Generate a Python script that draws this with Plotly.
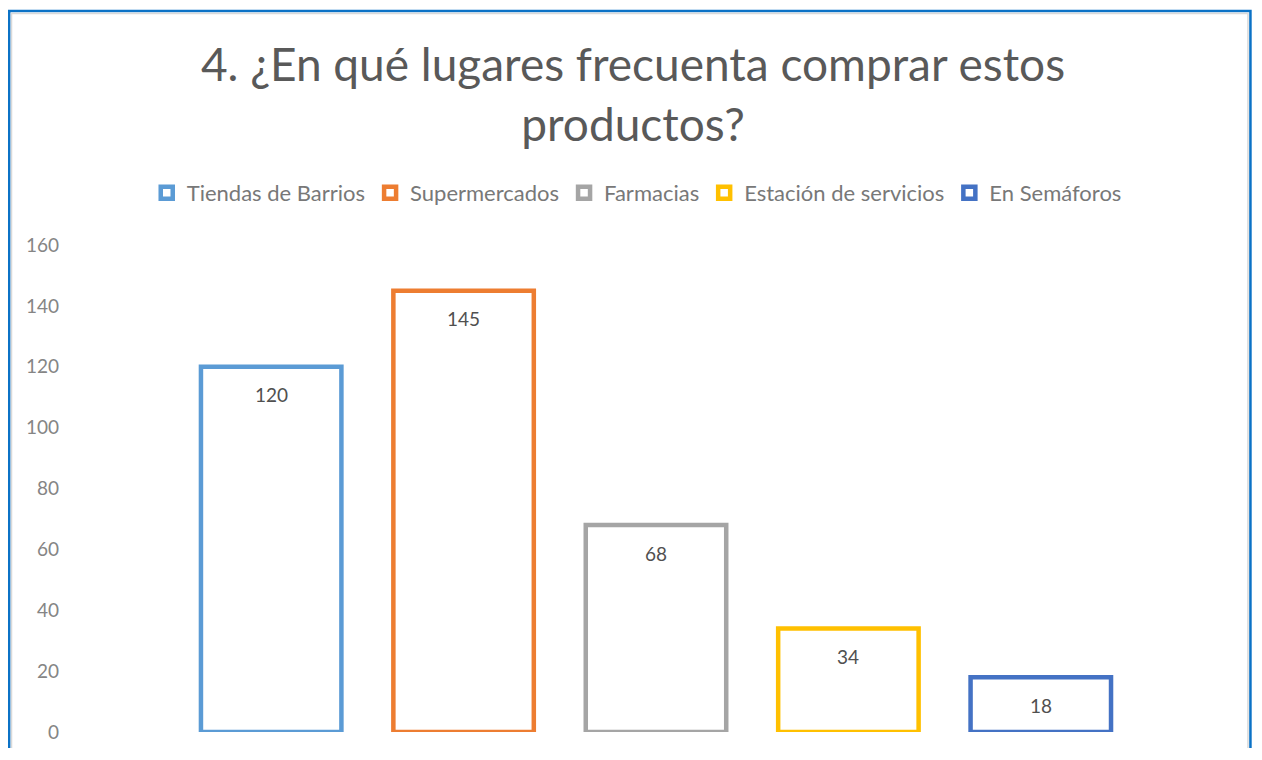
import plotly.graph_objects as go

categories = ["Tiendas de Barrios", "Supermercados", "Farmacias", "Estación de servicios", "En Semáforos"]
values = [120, 145, 68, 34, 18]
colors = ["#5B9BD5", "#ED7D31", "#A5A5A5", "#FFC000", "#4472C4"]
y_ticks = [0, 20, 40, 60, 80, 100, 120, 140, 160]

FONT = "Lato"
TITLE_C = "#595959"
LEG_C = "#787878"
TICK_C = "#858585"
LAB_C = "#505050"

# the page body adds an 8px margin, so the figure is laid out 8px smaller
OFF = 8
W, H = 1262 - OFF, 760 - 2 * OFF - 4
L, R = 68 - OFF, 1137.5 - OFF
T, B = 245 - OFF, 732 - OFF


def px_x(p):
    return (p - OFF - L) / (R - L)


def px_y(p):
    return (B - (p - OFF)) / (B - T)


fig = go.Figure()
for cat, val, col in zip(categories, values, colors):
    fig.add_trace(go.Bar(
        x=[cat], y=[val], name=cat, width=0.73,
        marker=dict(color="white", line=dict(color=col, width=4.5)),
        hoverinfo="x+y",
    ))
    fig.add_annotation(x=cat, y=val, yshift=-28, text=str(val), showarrow=False,
                       font=dict(family=FONT, size=19, color=LAB_C))

# chart frame
fig.add_shape(type="rect", xref="paper", yref="paper",
              x0=px_x(9.2), x1=px_x(1251), y0=px_y(820), y1=px_y(11),
              line=dict(color="#0B72C6", width=2.5), layer="below")
fig.add_shape(type="rect", xref="paper", yref="paper",
              x0=px_x(11.5), x1=px_x(1248.5), y0=px_y(820), y1=px_y(13.5),
              line=dict(color="#D9D9D9", width=1.5), layer="below")

fig.update_layout(
    width=W, height=H,
    margin=dict(l=L, r=W - R, t=T, b=H - B, pad=0, autoexpand=False),
    paper_bgcolor="white", plot_bgcolor="white",
    barmode="overlay",
    font=dict(family=FONT, color=TITLE_C),
    title=dict(text="4. ¿En qué lugares frecuenta comprar estos<br>productos?",
               x=(633 - OFF) / W, xanchor="center", xref="container",
               y=1 - 73 / H, yanchor="top", yref="container",
               font=dict(family=FONT, size=46, color=TITLE_C)),
    legend=dict(orientation="h", x=px_x(637), xanchor="center",
                y=px_y(193), yanchor="middle",
                font=dict(family=FONT, size=22, color=LEG_C),
                bgcolor="rgba(0,0,0,0)", traceorder="normal"),
    showlegend=True,
)
fig.update_xaxes(type="category", categoryorder="array", categoryarray=categories,
                 range=[-1.056, 4.5], showticklabels=False, showgrid=False,
                 zeroline=False, showline=False, ticks="", automargin=False)
fig.update_yaxes(range=[0, 160], tickvals=y_ticks, showgrid=False, zeroline=False,
                 showline=False, ticks="", ticklabelstandoff=8, automargin=False,
                 tickfont=dict(family=FONT, size=19, color=TICK_C))

fig.write_html("out.html")
